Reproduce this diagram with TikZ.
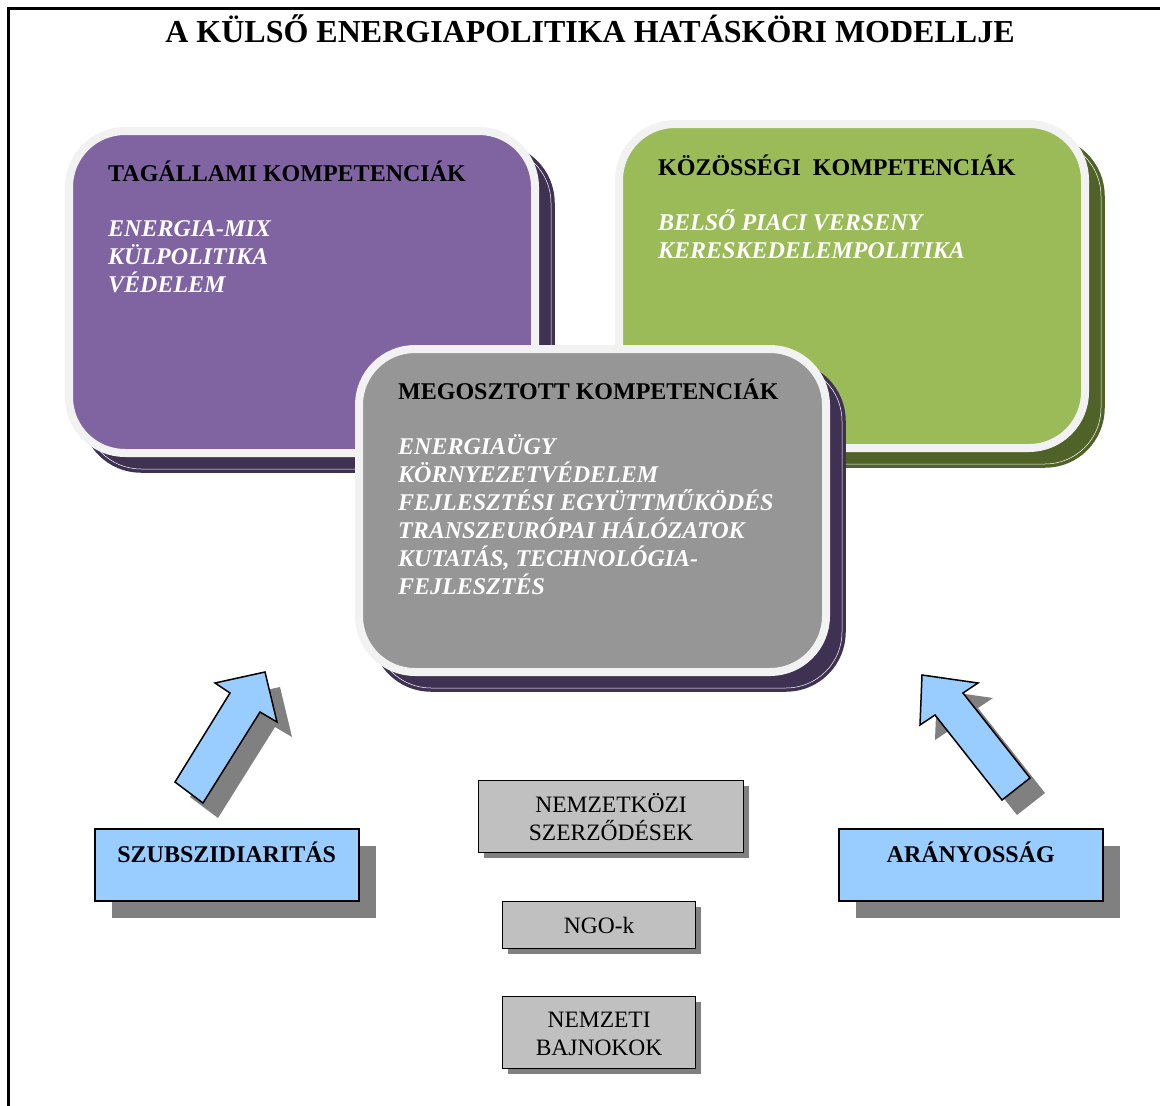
\documentclass[tikz,border=0pt]{standalone}
\usepackage{fontspec}
\setmainfont{Liberation Serif}
\usetikzlibrary{shadows}

\definecolor{panelrim}{HTML}{F2F2F2}
\definecolor{purplebox}{HTML}{8064A2}
\definecolor{shadowpurple}{HTML}{3F3151}
\definecolor{greenbox}{HTML}{9BBB59}
\definecolor{shadowgreen}{HTML}{4F6228}
\definecolor{greybox}{HTML}{969696}
\definecolor{princblue}{HTML}{99CCFF}
\definecolor{actorgrey}{HTML}{C0C0C0}
\definecolor{shadowgrey}{HTML}{808080}

\newcommand{\firststrut}{\rule{0pt}{22pt}}

\begin{document}
\begin{tikzpicture}[
  x=1pt, y=-1pt,
  panel/.style={draw=panelrim, line width=8pt, rounded corners=56pt, outer sep=0pt, inner sep=0pt, anchor=north west},
  panelshadow/.style={general shadow={shadow xshift=16pt, shadow yshift=-16pt, fill=#1, draw=#1, double=white, double distance=0.5pt, line width=3.5pt}},
  paneltext/.style={anchor=north west, inner sep=0pt, align=left, text=white, font=\fontsize{24}{28}\selectfont\bfseries\itshape},
  principle/.style={draw=black, line width=1.5pt, fill=princblue, minimum width=264pt, minimum height=72pt, inner sep=0pt, anchor=north west, text height=34pt, text depth=38pt, font=\fontsize{24}{28}\selectfont\bfseries, drop shadow={shadow xshift=17pt, shadow yshift=-17pt, fill=shadowgrey, opacity=1}},
  actor/.style={draw=black, line width=1.2pt, fill=actorgrey, inner sep=0pt, align=center, anchor=north west, font=\fontsize{23.5}{28}\selectfont, drop shadow={shadow xshift=5pt, shadow yshift=-5pt, fill=shadowgrey, opacity=1}},
  arrowshadow/.style={fill=shadowgrey, shift={(15,15)}},
  arrowbody/.style={fill=princblue, draw=black, line width=1.5pt, line join=miter}
]
\useasboundingbox (0,0) rectangle (1160,1106);
\draw[line width=3pt] (8,8) rectangle (1190,1130);

\node[font=\fontsize{32}{36}\selectfont\bfseries, anchor=base] (title) at (590,42) {A KÜLSŐ ENERGIAPOLITIKA HATÁSKÖRI MODELLJE};

% three competence panels
\node[panel, panelshadow=shadowpurple, fill=purplebox, minimum width=466pt, minimum height=322pt] (tag) at (69,131) {};
\node[paneltext] (tagtext) at ([shift={(39,28)}]tag.north west) {\firststrut\textup{\color{black}TAGÁLLAMI KOMPETENCIÁK}\\[27pt] ENERGIA-MIX\\ KÜLPOLITIKA\\ VÉDELEM};

\node[panel, panelshadow=shadowgreen, fill=greenbox, minimum width=466pt, minimum height=324pt] (koz) at (619,124) {};
\node[paneltext] (koztext) at ([shift={(39,29)}]koz.north west) {\firststrut\textup{\color{black}KÖZÖSSÉGI\ \ KOMPETENCIÁK}\\[27pt] BELSŐ PIACI VERSENY\\ KERESKEDELEMPOLITIKA};

\node[panel, panelshadow=shadowpurple, fill=greybox, minimum width=467pt, minimum height=323pt] (meg) at (359,349) {};
\node[paneltext] (megtext) at ([shift={(39,28)}]meg.north west) {\firststrut\textup{\color{black}MEGOSZTOTT KOMPETENCIÁK}\\[27pt] ENERGIAÜGY\\ KÖRNYEZETVÉDELEM\\ FEJLESZTÉSI EGYÜTTMŰKÖDÉS\\ TRANSZEURÓPAI HÁLÓZATOK\\ KUTATÁS, TECHNOLÓGIA-\\ FEJLESZTÉS};

% block arrows
\foreach \s in {arrowshadow, arrowbody}{
  \path[\s] (265,672) -- (215,683) -- (230,693) -- (175,782) -- (203,803) -- (260,712) -- (277,722) -- cycle;
  \path[\s] (922,675) -- (978,683) -- (963,693) -- (1030,778) -- (1002,800) -- (935,715) -- (920,725) -- cycle;
}

% principles
\node[principle] (szub) at (94,828) {SZUBSZIDIARITÁS};
\node[principle] (arany) at (838,828) {ARÁNYOSSÁG};

% actors
\node[actor, minimum width=265pt, minimum height=72pt] (nemz) at (478,780) {NEMZETKÖZI\\ SZERZŐDÉSEK};
\node[actor, minimum width=193pt, minimum height=47pt] (ngo) at (502,901) {NGO-k};
\node[actor, minimum width=193pt, minimum height=72pt] (bajn) at (502,996) {\rule{0pt}{19pt}NEMZETI\\ BAJNOKOK};
\end{tikzpicture}
\end{document}
